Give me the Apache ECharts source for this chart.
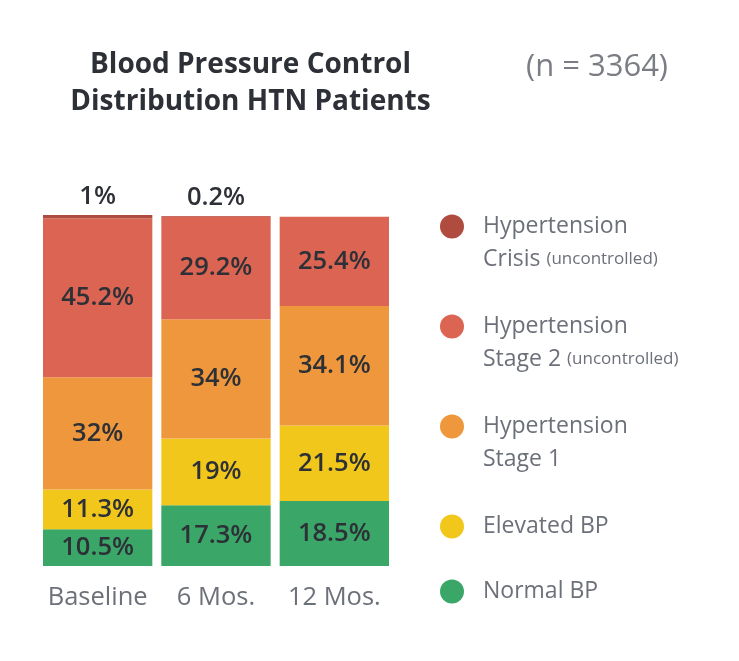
<!DOCTYPE html>
<html>
<head>
<meta charset="utf-8">
<script src="https://cdn.jsdelivr.net/npm/echarts@6/dist/echarts.min.js"></script>
<style>html,body{margin:0;padding:0;background:#fff;}#c{width:739px;height:661px;}</style>
</head>
<body>
<div id="c"></div>
<script>
const categories = ['Baseline', '6 Mos.', '12 Mos.'];
const normalBP = [10.5, 17.3, 18.5];
const elevatedBP = [11.3, 19, 21.5];
const stage1 = [32, 34, 34.1];
const stage2 = [45.2, 29.2, 25.4];
const crisis = [1, 0.2, null];

const FONT = 'Open Sans';
const DARK = '#2d3036';
const GRAY = '#6c7079';
const colors = {
  crisis: '#b04b3f',
  stage2: '#db6452',
  stage1: '#ef973c',
  elevated: '#f2c71b',
  normal: '#3aa668'
};

const chart = echarts.init(document.getElementById('c'));

function seriesOf(name, data, color, pos) {
  return {
    name: name,
    type: 'bar',
    stack: 'total',
    data: data,
    barCategoryGap: '7.6%',
    itemStyle: { color: color },
    emphasis: { disabled: true },
    label: {
      show: true,
      position: pos || 'inside',
      distance: 4,
      formatter: '{c}%',
      fontFamily: FONT,
      fontSize: 25.5,
      fontWeight: 600,
      color: DARK,
      lineHeight: 28
    }
  };
}

const twoLine = {
  fontFamily: FONT, fontSize: 23, color: GRAY, lineHeight: 33,
  padding: [33, 0, 0, 14],
  rich: {
    u: { fontFamily: FONT, fontSize: 17, color: GRAY, lineHeight: 33 },
    m: { fontFamily: FONT, fontSize: 23, color: GRAY, lineHeight: 33 }
  }
};
const oneLine = {
  fontFamily: FONT, fontSize: 23, color: GRAY, lineHeight: 33,
  padding: [0, 0, 0, 14]
};

function legendOf(name, top, style, fmt) {
  return {
    data: [name],
    left: 440,
    top: top,
    padding: 0,
    icon: 'circle',
    itemWidth: 24,
    itemHeight: 24,
    selectedMode: false,
    textStyle: style,
    formatter: fmt
  };
}

chart.setOption({
  animation: false,
  title: [
    {
      text: 'Blood Pressure Control\nDistribution HTN Patients',
      left: 250.5, top: 47, textAlign: 'center', padding: 0,
      textStyle: { fontFamily: FONT, fontSize: 28, fontWeight: 'bold', color: DARK, lineHeight: 37 }
    },
    {
      text: '(n = 3364)',
      left: 597, top: 48, textAlign: 'center', padding: 0,
      textStyle: { fontFamily: FONT, fontSize: 31, fontWeight: 'normal', color: '#7a7d83', lineHeight: 38 }
    }
  ],
  legend: [
    legendOf('Hypertension Crisis', 177, twoLine, () => 'Hypertension\n{m|Crisis} {u|(uncontrolled)}'),
    legendOf('Hypertension Stage 2', 277, twoLine, () => 'Hypertension\n{m|Stage 2} {u|(uncontrolled)}'),
    legendOf('Hypertension Stage 1', 377, twoLine, () => 'Hypertension\nStage 1'),
    legendOf('Elevated BP', 510, oneLine),
    legendOf('Normal BP', 575, oneLine)
  ],
  grid: { left: 38.5, right: 345.5, top: 215, bottom: 95, containLabel: false },
  xAxis: {
    type: 'category',
    data: categories,
    axisLine: { show: false },
    axisTick: { show: false },
    axisLabel: { interval: 0, hideOverlap: false, margin: 19, fontFamily: FONT, fontSize: 25.5, color: GRAY }
  },
  yAxis: { type: 'value', min: 0, max: 100, show: false },
  series: [
    seriesOf('Normal BP', normalBP, colors.normal),
    seriesOf('Elevated BP', elevatedBP, colors.elevated),
    seriesOf('Hypertension Stage 1', stage1, colors.stage1),
    seriesOf('Hypertension Stage 2', stage2, colors.stage2),
    seriesOf('Hypertension Crisis', crisis, colors.crisis, 'top')
  ]
});
</script>
</body>
</html>
